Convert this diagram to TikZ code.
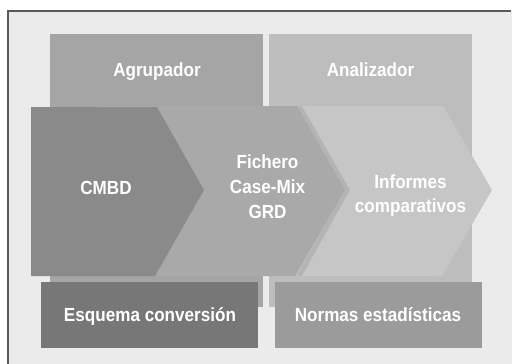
\documentclass[tikz,border=0pt]{standalone}
\usepackage{fontspec}
\setmainfont{Liberation Sans}[FakeStretch=0.9]
\definecolor{framefill}{HTML}{EBEBEB}
\definecolor{framedraw}{HTML}{5A5A5A}
\definecolor{agrup}{HTML}{A5A5A5}
\definecolor{analiz}{HTML}{BDBDBD}
\definecolor{cmbd}{HTML}{8A8A8A}
\definecolor{fichero}{HTML}{A9A9A9}
\definecolor{informes}{HTML}{C6C6C6}
\definecolor{infshadow}{HTML}{B4B4B4}
\definecolor{esquema}{HTML}{777777}
\definecolor{normas}{HTML}{9B9B9B}
\begin{document}
\begin{tikzpicture}[x=1pt,y=-1pt,
  lbl/.style={text=white,font=\bfseries\fontsize{19}{24.7}\selectfont,inner sep=0pt,anchor=base,align=center}]
\useasboundingbox (0,0) rectangle (512,364);
\fill[framefill] (8,11) rectangle (512,364);
\draw[framedraw,line width=1.3pt] (8,364) -- (8,11) -- (511,11);
% columns
\fill[agrup] (50,34) rectangle (263,307);
\fill[analiz] (269,34) rectangle (472,307);
% chevrons
\fill[infshadow] (297,106) -- (438,106) -- (487,190) -- (437,276) -- (297,276) -- (345,190) -- cycle;
\fill[informes] (302,106) -- (443,106) -- (492,190) -- (442,276) -- (302,276) -- (350,190) -- cycle;
\fill[fichero] (100,106) -- (297,106) -- (345,190) -- (295,276) -- (100,276) -- cycle;
\fill[cmbd] (31,107) -- (157,107) -- (204,190) -- (155,276) -- (31,276) -- cycle;
% bottom boxes
\fill[esquema] (41,282) rectangle (258,348);
\fill[normas] (275,282) rectangle (482,348);
% labels
\node[lbl] (agrupador) at (157,76) {Agrupador};
\node[lbl] (analizador) at (370.5,76) {Analizador};
\node[lbl] (cmbdt) at (106,194.5) {CMBD};
\node[lbl] (fich) at (267.5,218) {Fichero\\Case-Mix\\GRD};
\node[lbl] (inf) at (410.5,212.7) {Informes\\comparativos};
\node[lbl] (esq) at (150,321) {Esquema conversión};
\node[lbl] (norm) at (378,321) {Normas estadísticas};
\end{tikzpicture}
\end{document}
